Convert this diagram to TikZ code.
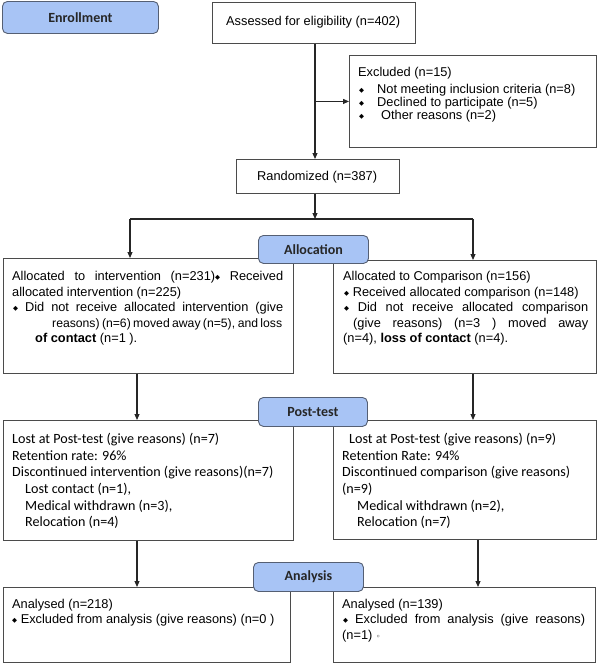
\documentclass[tikz,border=0pt]{standalone}
\usepackage{fontspec}
\setmainfont{Liberation Sans}
\newfontfamily\calib{Carlito}
\newfontfamily\djv{DejaVu Sans}
\usetikzlibrary{arrows.meta}
\definecolor{labfill}{RGB}{168,196,245}
\definecolor{labdraw}{RGB}{85,95,115}
\definecolor{bord}{RGB}{75,75,75}
\newcommand\dia{{\djv\fontsize{6.5}{7}\selectfont\raisebox{1pt}{◆}}}
\tikzset{
  box/.style={draw=bord, line width=0.9pt, fill=white, inner sep=0pt, anchor=north west},
  labbox/.style={draw=labdraw, fill=labfill, rounded corners=5pt, line width=0.9pt,
    anchor=north west, inner sep=0pt, text=black!85,
    font=\calib\bfseries\fontsize{14}{16}\selectfont},
  ta/.style={anchor=base west, inner sep=0pt, font=\fontsize{12.8}{15}\selectfont},
  tc/.style={anchor=base west, inner sep=0pt, font=\calib\fontsize{14.1}{16}\selectfont},
  arr/.style={-{Triangle[length=6pt,width=5pt]}, line width=1.1pt, black!85},
}
\begin{document}
\begin{tikzpicture}[x=1pt,y=-1pt]
\useasboundingbox (0,0) rectangle (600,664);
% boxes
\node[box, minimum width=203pt, minimum height=41pt] (ass) at (212,2) {};
\node[box, minimum width=247pt, minimum height=92pt] (exc) at (349,55) {};
\node[box, minimum width=163pt, minimum height=34pt] (ran) at (236,159) {};
\node[box, minimum width=290pt, minimum height=115pt] (alL) at (3,258) {};
\node[box, minimum width=263pt, minimum height=113pt] (alR) at (333,260) {};
\node[box, minimum width=290pt, minimum height=120pt] (poL) at (3,420) {};
\node[box, minimum width=263pt, minimum height=119pt] (poR) at (333,420) {};
\node[box, minimum width=287pt, minimum height=75pt] (anL) at (3,587) {};
\node[box, minimum width=262pt, minimum height=75pt] (anR) at (333,587) {};
% labels
\node[labbox, minimum width=156pt, minimum height=32pt] (enr) at (2,1) {Enrollment};
\node[labbox, minimum width=110pt, minimum height=28pt] (lalloc) at (258,235) {Allocation};
\node[labbox, minimum width=109pt, minimum height=29pt] (lpost) at (258,397) {Post-test};
\node[labbox, minimum width=110pt, minimum height=29pt] (lanal) at (253,562) {Analysis};
% single-line boxes
\node[ta] (asst) at (226,25) {Assessed for eligibility (n=402)};
\node[ta] (rant) at (257,180.5) {Randomized (n=387)};
% texts: excluded
\node[ta] (ex0) at (358,76.7) {Excluded (n=15)};
\node[ta] (ex1) at (359,93.3) {\dia\hspace{13pt}Not meeting inclusion criteria (n=8)};
\node[ta] (ex2) at (359,106) {\dia\hspace{13pt}Declined to participate (n=5)};
\node[ta] (ex3) at (359,119) {\dia\hspace{17pt}Other reasons (n=2)};
% allocation left
\node[ta] (al1) at (12,280) {\makebox[271pt][s]{Allocated to intervention (n=231)\dia{} Received}};
\node[ta] (al2) at (12,296) {allocated intervention (n=225)};
\node[ta] (al3) at (13,311.7) {\makebox[270pt][s]{\dia{} Did not receive allocated intervention (give}};
\node[ta, font=\fontsize{12.2}{15}\selectfont] (al4) at (52,327.3) {\makebox[230pt][s]{reasons) (n=6) moved away (n=5), and loss}};
\node[ta] (al5) at (35,342.7) {\textbf{of contact} (n=1 ).};
% allocation right
\node[ta] (ar1) at (343,280) {Allocated to Comparison (n=156)};
\node[ta] (ar2) at (344,296) {\dia{} Received allocated comparison (n=148)};
\node[ta] (ar3) at (344,311.7) {\makebox[244pt][s]{\dia{} Did not receive allocated comparison}};
\node[ta] (ar4) at (353,327.3) {\makebox[235pt][s]{(give reasons) (n=3\hspace{12pt}) moved away}};
\node[ta] (ar5) at (343,342.7) {(n=4), \textbf{loss of contact} (n=4).};
% post-test left
\node[tc] (pl1) at (12,443.3) {Lost at Post-test (give reasons) (n=7)};
\node[tc] (pl2) at (12,460) {Retention rate: 96\%};
\node[tc] (pl3) at (12,476.7) {Discontinued intervention (give reasons)(n=7)};
\node[tc] (pl4) at (25,493.3) {Lost contact (n=1),};
\node[tc] (pl5) at (25,510) {Medical withdrawn (n=3),};
\node[tc] (pl6) at (25,526.7) {Relocation (n=4)};
% post-test right
\node[tc] (pr1) at (349,443.3) {Lost at Post-test (give reasons) (n=9)};
\node[tc] (pr2) at (342,460) {Retention Rate: 94\%};
\node[tc] (pr3) at (342,476.7) {Discontinued comparison (give reasons)};
\node[tc] (pr4) at (342,493.3) {(n=9)};
\node[tc] (pr5) at (357,510) {Medical withdrawn (n=2),};
\node[tc] (pr6) at (357,526.7) {Relocation (n=7)};
% analysis
\node[ta] (nl1) at (12,608.5) {Analysed (n=218)};
\node[ta] (nl2) at (12,623.3) {\dia{} Excluded from analysis (give reasons) (n=0 )};
\node[ta] (nr1) at (342,608.3) {Analysed (n=139)};
\node[ta] (nr2) at (343,623.3) {\makebox[242pt][s]{\dia{} Excluded from analysis (give reasons)}};
\node[ta] (nr3) at (342,639.3) {(n=1) {\djv\fontsize{8}{9}\selectfont ◦}};
% connectors
\coordinate (xM) at (315,0);
\coordinate (jl) at (130,219);
\coordinate (jr) at (473,219);
\coordinate (xL) at (137,0);
\coordinate (xR) at (473,0);
\coordinate (xR2) at (478,0);
\draw[arr] (ass.south -| xM) -- (ran.north -| xM);
\draw[arr] (xM |- exc.west) -- (exc.west);
\draw[arr] (ran.south -| xM) -- (xM |- jl);
\draw[line width=1.1pt, black!85] (jl) -- (jr);
\draw[arr] (jl) -- (jl |- alL.north);
\draw[arr] (jr) -- (jr |- alR.north);
\draw[arr] (alL.south -| xL) -- (poL.north -| xL);
\draw[arr] (alR.south -| xR) -- (poR.north -| xR);
\draw[arr] (poL.south -| xL) -- (anL.north -| xL);
\draw[arr] (poR.south -| xR2) -- (anR.north -| xR2);
\end{tikzpicture}
\end{document}
